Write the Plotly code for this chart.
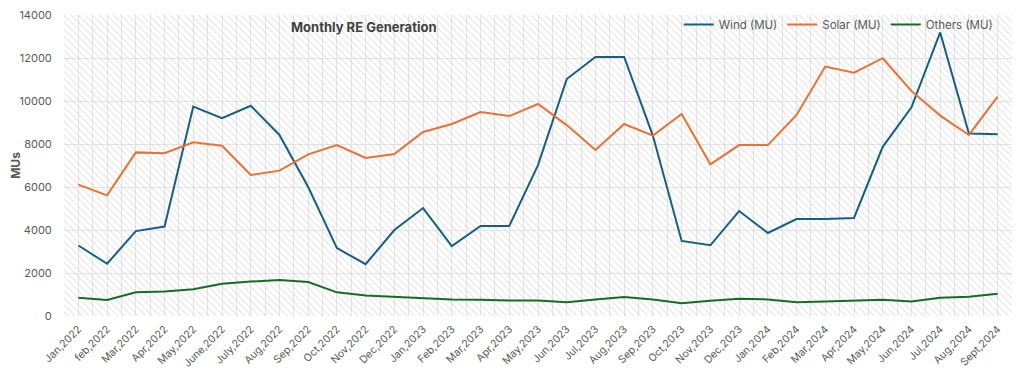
import plotly.graph_objects as go

months = ["Jan,2022", "feb,2022", "Mar,2022", "Apr,2022", "May,2022", "June,2022", "July,2022",
          "Aug,2022", "Sep,2022", "Oct,2022", "Nov,2022", "Dec,2022", "Jan,2023", "Feb,2023",
          "Mar,2023", "Apr,2023", "May,2023", "Jun,2023", "Jul,2023", "Aug,2023", "Sep,2023",
          "Oct,2023", "Nov,2023", "Dec,2023", "Jan,2024", "Feb,2024", "Mar,2024", "Apr,2024",
          "May,2024", "Jun,2024", "Jul,2024", "Aug,2024", "Sept,2024"]

wind = [3280, 2430, 3950, 4160, 9740, 9200, 9780, 8420, 6000, 3160, 2410, 4000, 5020, 3250,
        4190, 4190, 7020, 11020, 12050, 12050, 8380, 3490, 3290, 4880, 3860, 4510, 4510, 4560,
        7870, 9710, 13190, 8490, 8450]

solar = [6110, 5610, 7610, 7570, 8080, 7920, 6560, 6760, 7520, 7950, 7350, 7530, 8560, 8930,
         9490, 9300, 9860, 8880, 7720, 8930, 8390, 9400, 7060, 7950, 7950, 9350, 11600, 11320,
         11990, 10470, 9320, 8420, 10200]

others = [850, 750, 1100, 1140, 1240, 1500, 1600, 1680, 1580, 1100, 950, 900, 820, 770,
          760, 720, 720, 640, 770, 880, 770, 590, 710, 800, 770, 640, 680, 730,
          760, 680, 850, 900, 1030]

y_ticks = [0, 2000, 4000, 6000, 8000, 10000, 12000, 14000]

series = [("Wind (MU)", wind, "#156082"),
          ("Solar (MU)", solar, "#E97132"),
          ("Others (MU)", others, "#196B24")]

FONT = "Inter"
GREY = "#595959"
GRID = "#e4e4e4"

fig = go.Figure()

# hatched plot-area background (decoration on hidden base axes)
fig.add_trace(go.Bar(
    x=[0.5], y=[1], width=[1], xaxis="x", yaxis="y",
    marker=dict(color="rgba(0,0,0,0)", line=dict(width=0),
                pattern=dict(shape="\\", size=5, solidity=0.22,
                             fgcolor="#cccccc", bgcolor="rgba(0,0,0,0)")),
    showlegend=False, hoverinfo="skip"))

for name, vals, color in series:
    fig.add_trace(go.Scatter(
        x=months, y=vals, name=name, mode="lines",
        line=dict(color=color, width=2),
        xaxis="x2", yaxis="y2"))

n = len(months)
# page body adds an 8px offset; figure is sized so the plot lands where the reference has it
fig.update_layout(
    width=1016, height=366,
    margin=dict(l=56, r=12, t=7, b=58, autoexpand=False),
    paper_bgcolor="white", plot_bgcolor="white",
    font=dict(family=FONT, color=GREY, size=12),
    bargap=0,
    xaxis=dict(range=[0, 1], showticklabels=False, zeroline=False, automargin=False,
               showgrid=True, gridcolor=GRID, gridwidth=1,
               tick0=0.5 / n, dtick=1.0 / n, ticks=""),
    yaxis=dict(range=[0, 1], showticklabels=False, zeroline=False, showgrid=False,
               automargin=False),
    xaxis2=dict(overlaying="x", type="category", categoryorder="array", categoryarray=months,
                range=[-0.5, n - 0.5], tickangle=-45, tickson="boundaries",
                showgrid=True, gridcolor=GRID, gridwidth=1, ticklabeloverflow="allow",
                ticks="", ticklabelstandoff=4, automargin=False,
                tickfont=dict(size=10.5, color=GREY), showline=False, zeroline=False),
    yaxis2=dict(overlaying="y", range=[0, 14000], tickvals=y_ticks,
                ticktext=[str(v) for v in y_ticks], automargin=False,
                ticklabeloverflow="allow",
                showgrid=True, gridcolor=GRID, gridwidth=1, zeroline=False,
                tickfont=dict(size=11, color=GREY),
                ticks="outside", ticklen=9, tickcolor="rgba(0,0,0,0)",
                title=dict(text="<b>MUs</b>", font=dict(size=12, color=GREY), standoff=7)),
    legend=dict(orientation="h", x=0.985, xanchor="right", y=1.017, yanchor="top",
                bgcolor="rgba(0,0,0,0)", font=dict(size=11.5, color=GREY),
                itemwidth=30, tracegroupgap=0),
    annotations=[dict(text="<b>Monthly RE Generation</b>", xref="paper", yref="paper",
                      x=0.316, y=0.96, xanchor="center", yanchor="middle",
                      showarrow=False, font=dict(size=13, color="#404040"))],
)

fig.write_html("out.html")
